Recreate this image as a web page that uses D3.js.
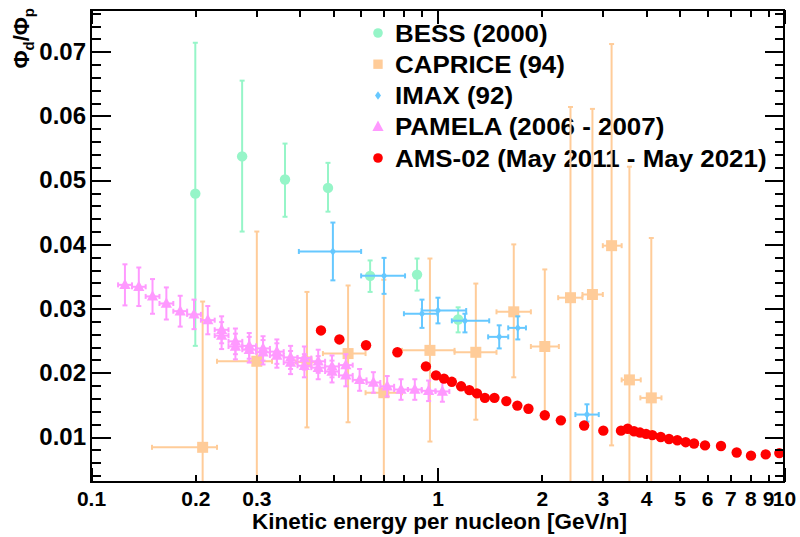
<!DOCTYPE html>
<html>
<head>
<meta charset="utf-8">
<script src="https://cdn.jsdelivr.net/npm/d3@7"></script>
<style>
  body { margin: 0; background: #fff; }
  svg { display: block; }
  text { font-family: "Liberation Sans", Arial, Helvetica, sans-serif; font-weight: bold; fill: #000; }
</style>
</head>
<body>
<svg id="chart" width="800" height="537"></svg>
<script>
// ---- Deuteron / proton flux ratio vs kinetic energy per nucleon ----

// BESS (2000)
const bessE     = [0.200, 0.273, 0.363, 0.483, 0.639, 0.873, 1.147];
const bessRatio = [0.0479, 0.0537, 0.0501, 0.0488, 0.0351, 0.0353, 0.0283];
const bessLow   = [0.0242, 0.0420, 0.0443, 0.0451, 0.0326, 0.0328, 0.0263];
const bessHigh  = [0.0714, 0.0655, 0.0557, 0.0527, 0.0375, 0.0378, 0.0302];

// CAPRICE (94)
const capriceE     = [0.210, 0.301, 0.420, 0.552, 0.700, 0.951, 1.29, 1.66, 2.04, 2.42, 2.80, 3.18, 3.58, 4.14];
const capriceELow  = [0.150, 0.231, 0.390, 0.467, 0.620, 0.790, 1.12, 1.48, 1.86, 2.23, 2.62, 3.00, 3.40, 3.85];
const capriceEHigh = [0.231, 0.333, 0.450, 0.620, 0.790, 1.120, 1.48, 1.86, 2.24, 2.62, 3.00, 3.40, 3.86, 4.43];
const capriceRatio = [0.0084, 0.0218, 0.0217, 0.0230, 0.0169, 0.0235, 0.0232, 0.0295, 0.0241, 0.0317, 0.0322, 0.0398, 0.0189, 0.0161];
const capriceLow   = [0.0, 0.0, 0.0115, 0.0123, 0.0, 0.0093, 0.0127, 0.0193, 0.0133, 0.0, 0.0, 0.0087, 0.0, 0.0];
const capriceHigh  = [0.0311, 0.0420, 0.0326, 0.0336, 0.0345, 0.0378, 0.0339, 0.0400, 0.0361, 0.0614, 0.0611, 0.0712, 0.0521, 0.0410];

// IMAX (92)
const imaxE     = [0.499, 0.701, 0.902, 1.003, 1.20, 1.507, 1.705, 2.70];
const imaxELow  = [0.398, 0.602, 0.800, 0.900, 1.10, 1.400, 1.600, 2.50];
const imaxEHigh = [0.602, 0.806, 1.000, 1.210, 1.41, 1.600, 1.800, 2.92];
const imaxRatio = [0.0389, 0.0351, 0.0292, 0.0297, 0.0281, 0.0256, 0.0270, 0.0135];
const imaxLow   = [0.0344, 0.0323, 0.0270, 0.0277, 0.0263, 0.0238, 0.0252, 0.0124];
const imaxHigh  = [0.0434, 0.0379, 0.0314, 0.0317, 0.0292, 0.0274, 0.0288, 0.0151];

// PAMELA (2006 - 2007)
const pamelaE = [0.1253, 0.1374, 0.1505, 0.1650, 0.1809, 0.1983, 0.2173, 0.2382, 0.2611, 0.2862,
                 0.3137, 0.3439, 0.3767, 0.4129, 0.4526, 0.4961, 0.5438, 0.5960, 0.6531, 0.7158,
                 0.7847, 0.8600, 0.9426, 1.033,
                 0.2382, 0.2611, 0.2862, 0.3137, 0.3439, 0.3767, 0.4129, 0.4526, 0.4961, 0.5438];
const pamelaELow = [0.1197, 0.1313, 0.1438, 0.1576, 0.1728, 0.1894, 0.2076, 0.2275, 0.2494, 0.2733,
                    0.2996, 0.3284, 0.3599, 0.3944, 0.4323, 0.4738, 0.5194, 0.5692, 0.6240, 0.6839,
                    0.7496, 0.8215, 0.9003, 0.9868,
                    0.2275, 0.2494, 0.2733, 0.2996, 0.3284, 0.3599, 0.3944, 0.4323, 0.4738, 0.5194];
const pamelaEHigh = [0.1313, 0.1438, 0.1576, 0.1728, 0.1894, 0.2076, 0.2275, 0.2494, 0.2733, 0.2996,
                     0.3284, 0.3599, 0.3944, 0.4323, 0.4738, 0.5194, 0.5692, 0.6240, 0.6839, 0.7496,
                     0.8215, 0.9003, 0.9868, 1.082,
                     0.2494, 0.2733, 0.2996, 0.3284, 0.3599, 0.3944, 0.4323, 0.4738, 0.5194, 0.5692];
const pamelaRatio = [0.0337, 0.0334, 0.0319, 0.0308, 0.0296, 0.0291, 0.0282, 0.0267, 0.0249, 0.0242,
                     0.0238, 0.0233, 0.0224, 0.0223, 0.0218, 0.0210, 0.0212, 0.0189, 0.0185, 0.0179,
                     0.0174, 0.0174, 0.0172, 0.0171,
                     0.0258, 0.0241, 0.0236, 0.0232, 0.0227, 0.0216, 0.0211, 0.0208, 0.0202, 0.0196];
const pamelaErr = [0.0032, 0.0030, 0.0027, 0.0025, 0.0024, 0.0023, 0.0022, 0.0021, 0.0020, 0.0020,
                   0.0019, 0.0019, 0.0018, 0.0018, 0.0018, 0.0017, 0.0017, 0.0017, 0.0016, 0.0016,
                   0.0016, 0.0016, 0.0016, 0.0016,
                   0.0021, 0.0020, 0.0020, 0.0019, 0.0019, 0.0018, 0.0018, 0.0018, 0.0017, 0.0017];

// AMS-02 (May 2011 - May 2021)
const amsE = [0.461, 0.521, 0.622, 0.766, 0.926, 0.990, 1.044, 1.10, 1.17, 1.236,
              1.30, 1.37, 1.46, 1.58, 1.70, 1.83, 2.04, 2.27, 2.65, 3.01,
              3.385, 3.539, 3.691, 3.841, 3.998, 4.169, 4.409, 4.658, 4.922, 5.204,
              5.500, 5.916, 6.579, 7.302, 8.030, 8.856, 9.694];
const amsRatio = [0.0266, 0.0252, 0.0243, 0.0232, 0.0210, 0.0196, 0.0191, 0.0186, 0.0179, 0.0173,
                  0.0168, 0.0161, 0.0161, 0.0156, 0.0149, 0.0144, 0.0134, 0.0126, 0.0118, 0.0110,
                  0.0110, 0.0113, 0.0109, 0.0107, 0.0105, 0.0103, 0.0100, 0.0097, 0.0095, 0.0092,
                  0.0090, 0.0087, 0.0086, 0.0076, 0.0071, 0.0073, 0.0075];

// Axis ticks and labels
const xMajorTicks = [0.1, 1, 10];
const xMinorTicks = [0.2, 0.3, 0.4, 0.5, 0.6, 0.7, 0.8, 0.9, 2, 3, 4, 5, 6, 7, 8, 9];
const xLabelled   = [0.1, 0.2, 0.3, 1, 2, 3, 4, 5, 6, 7, 8, 9, 10];
const yMajorTicks = [0.01, 0.02, 0.03, 0.04, 0.05, 0.06, 0.07];
const yMinorStep  = 0.002;

const legendLabels = ["BESS (2000)", "CAPRICE (94)", "IMAX (92)", "PAMELA (2006 - 2007)", "AMS-02 (May 2011 - May 2021)"];
const colors = { bess: "#96f5c8", caprice: "#ffcc99", imax: "#66c8ff", pamela: "#ff99ff", ams: "#ff0000" };

// ---- layout ----
const W = 800, H = 537;
const frame = { left: 91, right: 784, top: 10, bottom: 482 };

const x = d3.scaleLog().domain([0.1, 10]).range([frame.left, frame.right]);
const y = d3.scaleLinear().domain([0.003, 0.0765]).range([frame.bottom, frame.top]);

const svg = d3.select("#chart");
svg.append("rect").attr("width", W).attr("height", H).attr("fill", "#fff");

svg.append("defs").append("clipPath").attr("id", "plot-clip")
  .append("rect")
  .attr("x", frame.left).attr("y", frame.top)
  .attr("width", frame.right - frame.left).attr("height", frame.bottom - frame.top);

// ---- marker shapes ----
function markerPath(shape) {
  switch (shape) {
    case "circle":   return d3.symbol(d3.symbolCircle, Math.PI * 5.2 * 5.2)();
    case "square":   return "M-5.5,-5.5H5.5V5.5H-5.5Z";
    case "diamond":  return "M0,-4.2L3,0L0,4.2L-3,0Z";
    case "triangle": return "M0,-6.2L5.6,4.2H-5.6Z";
  }
}

// ---- legend (drawn beneath the data points) ----
const legendX = 378, legendTextX = 395;
const legendRows = [33, 64.2, 95.5, 126.8, 158];
const legendShapes = [["bess", "circle"], ["caprice", "square"], ["imax", "diamond"], ["pamela", "triangle"], ["ams", "circle"]];
const legend = svg.append("g");
legendShapes.forEach(([key, shape], i) => {
  legend.append("path")
    .attr("d", shape === "circle" ? d3.symbol(d3.symbolCircle, Math.PI * 4.8 * 4.8)() : markerPath(shape))
    .attr("transform", `translate(${legendX},${legendRows[i]})${shape === "square" ? " scale(0.85)" : ""}`)
    .attr("fill", colors[key]);
  legend.append("text")
    .attr("transform", `translate(${legendTextX},${legendRows[i] + 8.5}) scale(1.08,1)`)
    .attr("font-size", 24)
    .text(legendLabels[i]);
});

// ---- data with error bars ----
const plot = svg.append("g").attr("clip-path", "url(#plot-clip)");

function drawSeries(points, color, shape, cap) {
  const g = plot.append("g");
  const bars = g.append("g").attr("stroke", color).attr("stroke-width", 2).attr("fill", "none");
  points.forEach(p => {
    const cx = x(p.e), cy = y(p.v);
    if (p.eLo !== undefined) {
      const x0 = x(p.eLo), x1 = x(p.eHi);
      bars.append("line").attr("x1", x0).attr("x2", x1).attr("y1", cy).attr("y2", cy);
      bars.append("line").attr("x1", x0).attr("x2", x0).attr("y1", cy - cap).attr("y2", cy + cap);
      bars.append("line").attr("x1", x1).attr("x2", x1).attr("y1", cy - cap).attr("y2", cy + cap);
    }
    if (p.vLo !== undefined) {
      const y0 = y(p.vLo), y1 = y(p.vHi);
      bars.append("line").attr("x1", cx).attr("x2", cx).attr("y1", y0).attr("y2", y1);
      bars.append("line").attr("x1", cx - cap).attr("x2", cx + cap).attr("y1", y0).attr("y2", y0);
      bars.append("line").attr("x1", cx - cap).attr("x2", cx + cap).attr("y1", y1).attr("y2", y1);
    }
  });
  g.append("g").selectAll("path").data(points).join("path")
    .attr("d", markerPath(shape))
    .attr("transform", p => `translate(${x(p.e)},${y(p.v)})`)
    .attr("fill", color);
}

const bess = bessE.map((e, i) => ({ e, v: bessRatio[i], vLo: bessLow[i], vHi: bessHigh[i] }));
const caprice = capriceE.map((e, i) => ({ e, eLo: capriceELow[i], eHi: capriceEHigh[i], v: capriceRatio[i], vLo: capriceLow[i], vHi: capriceHigh[i] }));
const imax = imaxE.map((e, i) => ({ e, eLo: imaxELow[i], eHi: imaxEHigh[i], v: imaxRatio[i], vLo: imaxLow[i], vHi: imaxHigh[i] }));
const pamela = pamelaE.map((e, i) => ({ e, eLo: pamelaELow[i], eHi: pamelaEHigh[i], v: pamelaRatio[i], vLo: pamelaRatio[i] - pamelaErr[i], vHi: pamelaRatio[i] + pamelaErr[i] }));
const ams = amsE.map((e, i) => ({ e, v: amsRatio[i] }));

drawSeries(bess, colors.bess, "circle", 2.5);
drawSeries(caprice, colors.caprice, "square", 2.5);
drawSeries(imax, colors.imax, "diamond", 2.5);
drawSeries(pamela, colors.pamela, "triangle", 2.5);
drawSeries(ams, colors.ams, "circle", 2.5);

// ---- axes (ticks on all four sides, pointing inward) ----
const xTicks = xMajorTicks.concat(xMinorTicks);
const isXMajor = v => xMajorTicks.includes(v);
const yTicks = d3.range(0.004, 0.0765, yMinorStep).map(v => +v.toFixed(3));
const isYMajor = v => yMajorTicks.some(m => Math.abs(m - v) < 1e-9);

const axisStyle = sel => {
  sel.select(".domain").remove();
  sel.selectAll(".tick line").attr("stroke", "#000").attr("stroke-width", 2).attr("shape-rendering", "crispEdges");
};

svg.append("g").attr("transform", `translate(0,${frame.bottom})`)
  .call(d3.axisBottom(x).tickValues(xTicks).tickSizeInner(-14).tickSizeOuter(0).tickPadding(9)
    .tickFormat(v => xLabelled.includes(v) ? String(v) : ""))
  .call(axisStyle)
  .call(g => g.selectAll(".tick line").attr("y2", v => isXMajor(v) ? -14 : -7))
  .call(g => g.selectAll(".tick text").attr("font-size", 21).attr("font-family", null).attr("fill", "#000"));

svg.append("g").attr("transform", `translate(0,${frame.top})`)
  .call(d3.axisTop(x).tickValues(xTicks).tickSizeInner(-14).tickSizeOuter(0).tickFormat(""))
  .call(axisStyle)
  .call(g => g.selectAll(".tick line").attr("y2", v => isXMajor(v) ? 14 : 7));

svg.append("g").attr("transform", `translate(${frame.left},0)`)
  .call(d3.axisLeft(y).tickValues(yTicks).tickSizeInner(-20).tickSizeOuter(0).tickPadding(5)
    .tickFormat(v => isYMajor(v) ? d3.format(".2f")(v) : ""))
  .call(axisStyle)
  .call(g => g.selectAll(".tick line").attr("x2", v => isYMajor(v) ? 20 : 10))
  .call(g => g.selectAll(".tick text").attr("font-size", 24).attr("font-family", null).attr("fill", "#000"));

svg.append("g").attr("transform", `translate(${frame.right},0)`)
  .call(d3.axisRight(y).tickValues(yTicks).tickSizeInner(-19).tickSizeOuter(0).tickFormat(""))
  .call(axisStyle)
  .call(g => g.selectAll(".tick line").attr("x2", v => isYMajor(v) ? -19 : -9));

// frame
svg.append("rect")
  .attr("x", frame.left).attr("y", frame.top)
  .attr("width", frame.right - frame.left).attr("height", frame.bottom - frame.top)
  .attr("fill", "none").attr("stroke", "#000").attr("stroke-width", 2)
  .attr("shape-rendering", "crispEdges");

// axis titles
svg.append("text")
  .attr("x", 627).attr("y", 529)
  .attr("text-anchor", "end").attr("font-size", 22.5)
  .text("Kinetic energy per nucleon [GeV/n]");

const yTitle = svg.append("text")
  .attr("transform", "translate(29,8) rotate(-90)")
  .attr("text-anchor", "end").attr("font-size", 22);
yTitle.append("tspan").text("Φ");
yTitle.append("tspan").attr("font-size", 15).attr("dy", 5).text("d");
yTitle.append("tspan").attr("dy", -5).text("/Φ");
yTitle.append("tspan").attr("font-size", 15).attr("dy", 5).text("p");
</script>
</body>
</html>
